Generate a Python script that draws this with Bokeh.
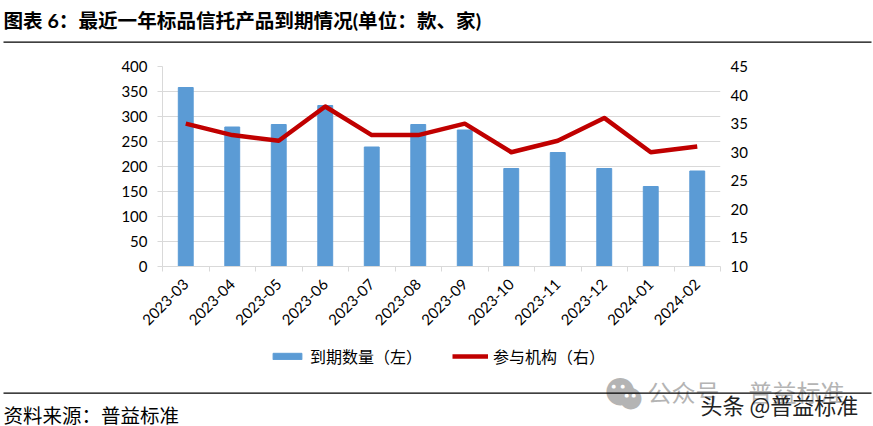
from bokeh.plotting import figure
from bokeh.layouts import column
from bokeh.models import (Range1d, LinearAxis, FixedTicker, Label, BoxAnnotation, Legend, LegendItem)
from bokeh.embed import file_html
from bokeh.resources import INLINE
import math

months = ["2023-03","2023-04","2023-05","2023-06","2023-07","2023-08","2023-09","2023-10","2023-11","2023-12","2024-01","2024-02"]
maturing = [358,279,284,322,239,284,273,196,228,196,160,191]
institutions = [35,33,32,38,33,33,35,30,32,36,30,31]
left_ticks = [0,50,100,150,200,250,300,350,400]
right_ticks = [10,15,20,25,30,35,40,45]
title_text = "图表 6：最近一年标品信托产品到期情况(单位：款、家)"
source_text = "资料来源：普益标准"
name_bar = "到期数量（左）"
name_line = "参与机构（右）"

FONT = "Lato, 'Noto Sans CJK SC'"
CJK = "'Noto Sans CJK SC'"
OFF = 4
W = 873 + OFF
H_TOP, H_MAIN, H_BOT = 56 + OFF, 279, 91
BAR_COLOR, LINE_COLOR = "#5b9bd5", "#c00000"
xs = [i + 0.5 for i in range(len(months))]


def strip(h, y0):
    """A figure whose frame is the whole canvas; annotation coordinates are window pixels."""
    f = figure(width=W, height=h, output_backend="svg", toolbar_location=None,
               x_range=Range1d(-OFF, W - OFF), y_range=Range1d(y0 + h, y0),
               x_axis_location=None, y_axis_location=None, frame_align=False,
               min_border=0, outline_line_color=None, margin=0)
    f.grid.visible = False
    return f


def lab(f, x, y, text, size, color="#000000", style="normal", font=CJK):
    f.add_layout(Label(x=x, y=y, text=text, text_font=font, text_font_size=size, text_color=color,
                       text_font_style=style, text_baseline="middle", text_align="left"))


def box(f, x0, x1, y0, y1, color):
    f.add_layout(BoxAnnotation(left=x0, right=x1, top=y0, bottom=y1, fill_color=color, fill_alpha=1,
                               line_alpha=0, line_width=0))


top = strip(H_TOP, -OFF)
lab(top, 3, 20, title_text, "19.6px", style="bold", font=FONT)
box(top, 3, 871, 41, 42.2, "#000000")

p = figure(width=W, height=H_MAIN, output_backend="svg", toolbar_location=None,
           x_range=Range1d(0, len(months)), y_range=Range1d(0, 400), frame_align=False,
           min_border_left=162 + OFF, min_border_right=153, min_border_top=10, min_border_bottom=69,
           outline_line_color=None, margin=0)
p.extra_y_ranges = {"r": Range1d(10, 45)}
p.vbar(x=xs, top=maturing, width=0.32, color=BAR_COLOR, line_color=BAR_COLOR)
p.line(x=xs, y=institutions, y_range_name="r", line_color=LINE_COLOR, line_width=4.5, line_join="round")

xa = p.xaxis[0]
xa.ticker = FixedTicker(ticks=xs, minor_ticks=list(range(len(months) + 1)))
xa.major_label_overrides = {x: m for x, m in zip(xs, months)}
xa.major_label_orientation = math.pi / 4
xa.major_tick_line_color = None
xa.major_tick_out = 0
xa.minor_tick_line_color = "#d9d9d9"
xa.minor_tick_out = 5
xa.minor_tick_in = 0
xa.axis_line_color = "#d9d9d9"
xa.major_label_standoff = 10

ya = p.yaxis[0]
ya.ticker = FixedTicker(ticks=left_ticks)
ya.major_tick_out = 5
ya.major_tick_in = 0
ya.minor_tick_line_color = None
ya.major_tick_line_color = "#d9d9d9"
ya.axis_line_color = "#d9d9d9"
ya.major_label_standoff = 10

ra = LinearAxis(y_range_name="r", ticker=FixedTicker(ticks=right_ticks))
ra.major_tick_line_color = None
ra.minor_tick_line_color = None
ra.axis_line_color = None
ra.major_tick_out = 0
ra.major_label_standoff = 10
p.add_layout(ra, "right")

for ax in (xa, ya, ra):
    ax.major_label_text_font = FONT
    ax.major_label_text_font_size = "15px"
    ax.major_label_text_color = "#000000"

p.xgrid.visible = False
p.ygrid.ticker = FixedTicker(ticks=left_ticks)
p.ygrid.grid_line_color = "#d9d9d9"
p.ygrid.grid_line_width = 1

bot = strip(H_BOT, 56 + H_MAIN)
# These two renderers lie outside this strip's visible range: they only give the legend its swatches.
off_x = [x - 500 for x in xs]
k1 = bot.vbar(x=off_x, top=institutions, bottom=0, width=0.32, color=BAR_COLOR)
k2 = bot.line(x=off_x, y=institutions, line_color=LINE_COLOR, line_width=4.5)
legend = Legend(items=[LegendItem(label=name_bar, renderers=[k1]), LegendItem(label=name_line, renderers=[k2])],
                orientation="horizontal", location=(269 + OFF, 58),
                background_fill_alpha=0, border_line_color=None,
                glyph_width=36, glyph_height=8, spacing=30, label_standoff=5,
                label_text_color="#000000", label_text_font=CJK, label_text_font_size="16px",
                margin=0, padding=0)
bot.add_layout(legend, "center")

lab(bot, 3, 414, source_text, "19.5px")
lab(bot, 647, 391, "公众号", "24px", color="#b4b4b4")
lab(bot, 748, 391, "普益标准", "24px", color="#b4b4b4")
lab(bot, 604, 388, "●", "36px", color="#b4b4b4", font="'DejaVu Sans'")
lab(bot, 618, 396, "●", "28px", color="#b4b4b4", font="'DejaVu Sans'")
for ex, ey in ((611, 385), (620, 385), (624, 394), (631, 394)):
    lab(bot, ex, ey, "●", "5px", color="#ffffff", font="'DejaVu Sans'")
box(bot, 3, 871, 392, 393.2, "#000000")
lab(bot, 700, 403, "头条 @普益标准", "22px", color="#222222")

page = column(top, p, bot, spacing=0, margin=(-OFF, 0, 0, -OFF))
open("out.html", "w").write(file_html(page, INLINE))
